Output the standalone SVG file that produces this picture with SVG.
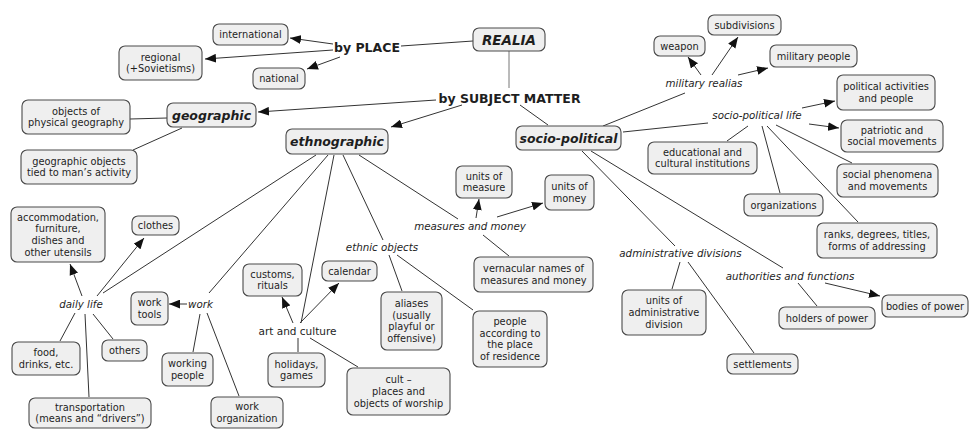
<svg xmlns="http://www.w3.org/2000/svg" width="969" height="430" viewBox="0 0 969 430">
<style>
.bx{fill:#efefef;stroke:#4a4a4a;stroke-width:1.1}
text{font-family:"DejaVu Sans","Liberation Sans",sans-serif;fill:#1e1e1e;text-anchor:middle}
.t{font-size:9.8px}
.lk{font-size:10.3px;font-style:italic}
.ac{font-size:10.5px}
.b{font-size:12.5px;font-weight:bold}
.bi{font-size:12.5px;font-weight:bold;font-style:italic}
#connectors line{stroke:#333;stroke-width:1}
#connectors line.ar{marker-end:url(#ah)}
#connectors line.gr{stroke:#777}
</style>
<defs>
<marker id="ah" viewBox="0 0 10 8" refX="10" refY="4" markerWidth="11" markerHeight="9" markerUnits="userSpaceOnUse" orient="auto"><path d="M0,0 L10,4 L0,8 z" fill="#111"/></marker>
</defs>
<rect width="969" height="430" fill="#fff"/>
<g id="connectors">
<line x1="473" y1="41" x2="401" y2="46"/>
<line class="ar" x1="333" y1="44" x2="290" y2="38"/>
<line class="ar" x1="333" y1="50" x2="205" y2="59"/>
<line class="ar" x1="340" y1="57" x2="307" y2="69"/>
<line class="gr" x1="509" y1="51" x2="509" y2="88"/>
<line class="ar" x1="436" y1="100" x2="258" y2="112"/>
<line class="ar" x1="462" y1="105" x2="391" y2="127"/>
<line x1="520" y1="105" x2="548" y2="125"/>
<line x1="603" y1="126" x2="685" y2="93"/>
<line x1="623" y1="132" x2="708" y2="123"/>
<line class="ar" x1="701" y1="75" x2="688" y2="57"/>
<line class="ar" x1="712" y1="75" x2="738" y2="37"/>
<line class="ar" x1="738" y1="75" x2="768" y2="68"/>
<line class="ar" x1="802" y1="108" x2="835" y2="101"/>
<line class="ar" x1="809" y1="124" x2="839" y2="128"/>
<line x1="748" y1="126" x2="727" y2="141"/>
<line x1="762" y1="126" x2="780" y2="193"/>
<line x1="776" y1="125" x2="852" y2="163"/>
<line x1="767" y1="126" x2="858" y2="222"/>
<line x1="582" y1="151" x2="675" y2="246"/>
<line x1="591" y1="151" x2="783" y2="268"/>
<line x1="680" y1="262" x2="672" y2="289"/>
<line x1="688" y1="262" x2="754" y2="353"/>
<line x1="798" y1="283" x2="817" y2="306"/>
<line class="ar" x1="825" y1="283" x2="880" y2="296"/>
<line x1="167" y1="118" x2="130" y2="119"/>
<line x1="182" y1="128" x2="133" y2="150"/>
<line x1="316" y1="155" x2="103" y2="293"/>
<line x1="328" y1="155" x2="209" y2="293"/>
<line x1="334" y1="155" x2="301" y2="323"/>
<line x1="343" y1="155" x2="383" y2="240"/>
<line x1="359" y1="155" x2="458" y2="219"/>
<line class="ar" x1="82" y1="296" x2="70" y2="264"/>
<line class="ar" x1="97" y1="296" x2="144" y2="238"/>
<line x1="75" y1="313" x2="60" y2="341"/>
<line x1="93" y1="314" x2="113" y2="339"/>
<line x1="85" y1="314" x2="89" y2="397"/>
<line class="ar" x1="187" y1="304" x2="169" y2="304"/>
<line x1="200" y1="314" x2="193" y2="352"/>
<line x1="207" y1="313" x2="239" y2="396"/>
<line class="ar" x1="293" y1="323" x2="282" y2="297"/>
<line class="ar" x1="300" y1="323" x2="339" y2="283"/>
<line x1="298" y1="338" x2="298" y2="352"/>
<line x1="310" y1="338" x2="358" y2="367"/>
<line x1="389" y1="255" x2="402" y2="291"/>
<line x1="397" y1="255" x2="473" y2="310"/>
<line class="ar" x1="476" y1="218" x2="479" y2="199"/>
<line class="ar" x1="497" y1="217" x2="543" y2="203"/>
<line x1="483" y1="235" x2="509" y2="256"/>
</g>
<g id="realia"><rect class="bx" x="473" y="28" width="72" height="23" rx="6"/><text class="bi" x="509" y="44.5" style="font-size:13.5px">REALIA</text></g>
<g id="by-place"><text class="b" x="367" y="51.5">by PLACE</text></g>
<g id="international"><rect class="bx" x="213" y="24" width="75" height="21" rx="6"/><text class="t" x="250.5" y="38">international</text></g>
<g id="regional"><rect class="bx" x="119" y="46" width="83" height="34" rx="6"/><text class="t"><tspan x="160.5" y="60.6">regional</tspan><tspan x="160.5" y="72.3">(+Sovietisms)</tspan></text></g>
<g id="national"><rect class="bx" x="253" y="68" width="52" height="21" rx="6"/><text class="t" x="279" y="82">national</text></g>
<g id="by-subject-matter"><text class="b" x="509.5" y="103">by SUBJECT MATTER</text></g>
<g id="geographic"><rect class="bx" x="167" y="103" width="89" height="24" rx="6"/><text class="bi" x="211.5" y="119.5">geographic</text></g>
<g id="physical-geography"><rect class="bx" x="22" y="100" width="108" height="34" rx="6"/><text class="t"><tspan x="76" y="114.6">objects of</tspan><tspan x="76" y="126.3">physical geography</tspan></text></g>
<g id="geo-objects-man"><rect class="bx" x="21" y="150" width="116" height="34" rx="6"/><text class="t"><tspan x="79" y="164.6">geographic objects</tspan><tspan x="79" y="176.3">tied to man’s activity</tspan></text></g>
<g id="ethnographic"><rect class="bx" x="286" y="129" width="102" height="25" rx="6"/><text class="bi" x="337" y="146">ethnographic</text></g>
<g id="socio-political"><rect class="bx" x="516" y="126" width="105" height="24" rx="6"/><text class="bi" x="568.5" y="142.5">socio-political</text></g>
<g id="military-realias"><text class="lk" x="704" y="87">military realias</text></g>
<g id="subdivisions"><rect class="bx" x="708" y="15" width="73" height="20" rx="6"/><text class="t" x="744.5" y="28.5">subdivisions</text></g>
<g id="weapon"><rect class="bx" x="654" y="36" width="51" height="20" rx="6"/><text class="t" x="679.5" y="49.5">weapon</text></g>
<g id="military-people"><rect class="bx" x="770" y="45" width="87" height="22" rx="6"/><text class="t" x="813.5" y="59.5">military people</text></g>
<g id="socio-political-life"><text class="lk" x="757" y="119">socio-political life</text></g>
<g id="political-activities"><rect class="bx" x="837" y="75" width="98" height="35" rx="6"/><text class="t"><tspan x="886" y="90.1">political activities</tspan><tspan x="886" y="101.8">and people</tspan></text></g>
<g id="patriotic"><rect class="bx" x="841" y="120" width="102" height="32" rx="6"/><text class="t"><tspan x="892" y="133.6">patriotic and</tspan><tspan x="892" y="145.3">social movements</tspan></text></g>
<g id="educational"><rect class="bx" x="648" y="142" width="109" height="32" rx="6"/><text class="t"><tspan x="702.5" y="155.6">educational and</tspan><tspan x="702.5" y="167.3">cultural institutions</tspan></text></g>
<g id="organizations"><rect class="bx" x="744" y="194" width="79" height="22" rx="6"/><text class="t" x="783.5" y="208.5">organizations</text></g>
<g id="social-phenomena"><rect class="bx" x="837" y="164" width="101" height="33" rx="6"/><text class="t"><tspan x="887.5" y="178.1">social phenomena</tspan><tspan x="887.5" y="189.8">and movements</tspan></text></g>
<g id="ranks"><rect class="bx" x="817" y="223" width="120" height="35" rx="6"/><text class="t"><tspan x="877" y="238.1">ranks, degrees, titles,</tspan><tspan x="877" y="249.8">forms of addressing</tspan></text></g>
<g id="administrative-divisions"><text class="lk" x="680.5" y="257">administrative divisions</text></g>
<g id="authorities"><text class="lk" x="790" y="280">authorities and functions</text></g>
<g id="units-adm"><rect class="bx" x="622" y="290" width="84" height="45" rx="6"/><text class="t"><tspan x="664" y="304.3">units of</tspan><tspan x="664" y="316">administrative</tspan><tspan x="664" y="327.7">division</tspan></text></g>
<g id="settlements"><rect class="bx" x="727" y="354" width="71" height="20" rx="6"/><text class="t" x="762.5" y="367.5">settlements</text></g>
<g id="holders"><rect class="bx" x="779" y="307" width="96" height="22" rx="6"/><text class="t" x="827" y="321.5">holders of power</text></g>
<g id="bodies"><rect class="bx" x="882" y="295" width="86" height="22" rx="6"/><text class="t" x="925" y="309.5">bodies of power</text></g>
<g id="units-money"><rect class="bx" x="545" y="175" width="49" height="35" rx="6"/><text class="t"><tspan x="569.5" y="190.1">units of</tspan><tspan x="569.5" y="201.8">money</tspan></text></g>
<g id="units-measure"><rect class="bx" x="456" y="166" width="56" height="32" rx="6"/><text class="t"><tspan x="484" y="179.6">units of</tspan><tspan x="484" y="191.3">measure</tspan></text></g>
<g id="measures-money"><text class="lk" x="470" y="230">measures and money</text></g>
<g id="vernacular"><rect class="bx" x="474" y="257" width="119" height="35" rx="6"/><text class="t"><tspan x="533.5" y="272.1">vernacular names of</tspan><tspan x="533.5" y="283.8">measures and money</tspan></text></g>
<g id="people-residence"><rect class="bx" x="473" y="311" width="74" height="56" rx="6"/><text class="t"><tspan x="510" y="325">people</tspan><tspan x="510" y="336.7">according to</tspan><tspan x="510" y="348.4">the place</tspan><tspan x="510" y="360.1">of residence</tspan></text></g>
<g id="ethnic-objects"><text class="lk" x="382" y="251">ethnic objects</text></g>
<g id="aliases"><rect class="bx" x="381" y="292" width="61" height="58" rx="6"/><text class="t"><tspan x="411.5" y="307">aliases</tspan><tspan x="411.5" y="318.7">(usually</tspan><tspan x="411.5" y="330.4">playful or</tspan><tspan x="411.5" y="342.1">offensive)</tspan></text></g>
<g id="calendar"><rect class="bx" x="322" y="261" width="55" height="20" rx="6"/><text class="t" x="349.5" y="274.5">calendar</text></g>
<g id="customs"><rect class="bx" x="243" y="264" width="59" height="32" rx="6"/><text class="t"><tspan x="272.5" y="277.6">customs,</tspan><tspan x="272.5" y="289.3">rituals</tspan></text></g>
<g id="art-culture"><text class="ac" x="297.5" y="335">art and culture</text></g>
<g id="holidays"><rect class="bx" x="268" y="353" width="57" height="34" rx="6"/><text class="t"><tspan x="296.5" y="367.6">holidays,</tspan><tspan x="296.5" y="379.3">games</tspan></text></g>
<g id="cult"><rect class="bx" x="347" y="368" width="103" height="47" rx="6"/><text class="t"><tspan x="398.5" y="383.3">cult –</tspan><tspan x="398.5" y="395">places and</tspan><tspan x="398.5" y="406.7">objects of worship</tspan></text></g>
<g id="work-organization"><rect class="bx" x="211" y="397" width="72" height="31" rx="6"/><text class="t"><tspan x="247" y="410.1">work</tspan><tspan x="247" y="421.8">organization</tspan></text></g>
<g id="working-people"><rect class="bx" x="162" y="353" width="51" height="33" rx="6"/><text class="t"><tspan x="187.5" y="367.1">working</tspan><tspan x="187.5" y="378.8">people</tspan></text></g>
<g id="work-tools"><rect class="bx" x="131" y="292" width="37" height="33" rx="6"/><text class="t"><tspan x="149.5" y="306.1">work</tspan><tspan x="149.5" y="317.8">tools</tspan></text></g>
<g id="work"><text class="lk" x="200.5" y="308">work</text></g>
<g id="daily-life"><text class="lk" x="81" y="308">daily life</text></g>
<g id="clothes"><rect class="bx" x="132" y="216" width="47" height="19" rx="6"/><text class="t" x="155.5" y="229">clothes</text></g>
<g id="accommodation"><rect class="bx" x="11" y="207" width="94" height="55" rx="6"/><text class="t"><tspan x="58" y="220.5">accommodation,</tspan><tspan x="58" y="232.2">furniture,</tspan><tspan x="58" y="243.9">dishes and</tspan><tspan x="58" y="255.6">other utensils</tspan></text></g>
<g id="food"><rect class="bx" x="12" y="342" width="68" height="33" rx="6"/><text class="t"><tspan x="46" y="356.1">food,</tspan><tspan x="46" y="367.8">drinks, etc.</tspan></text></g>
<g id="others"><rect class="bx" x="102" y="340" width="45" height="21" rx="6"/><text class="t" x="124.5" y="354">others</text></g>
<g id="transportation"><rect class="bx" x="29" y="398" width="122" height="30" rx="6"/><text class="t"><tspan x="90" y="410.6">transportation</tspan><tspan x="90" y="422.3">(means and “drivers”)</tspan></text></g>
</svg>
